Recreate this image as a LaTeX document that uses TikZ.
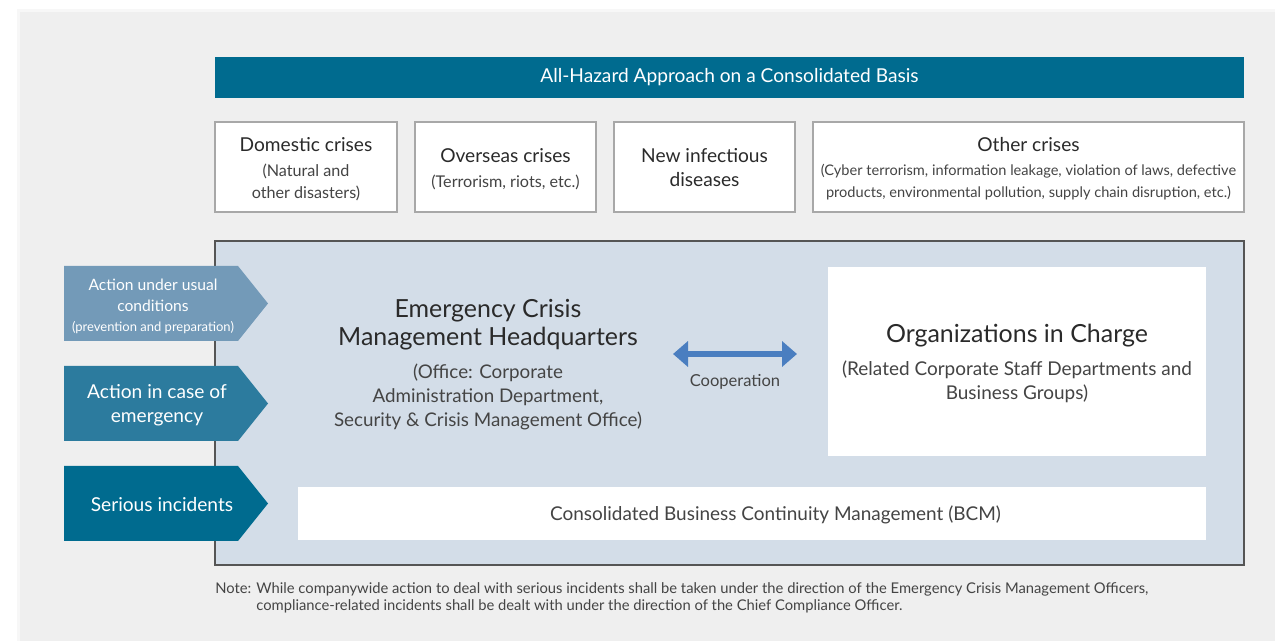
\documentclass[tikz,border=0pt]{standalone}
\usepackage{fontspec}
\setmainfont{Lato}
\usetikzlibrary{arrows.meta}
\newdimen\px \px=0.02cm
\definecolor{panelgray}{HTML}{EFEFEF}
\definecolor{hazardblue}{HTML}{006B8F}
\definecolor{boxgray}{HTML}{A8A8A8}
\definecolor{mainfill}{HTML}{D3DDE8}
\definecolor{mainline}{HTML}{555555}
\definecolor{tagone}{HTML}{739AB8}
\definecolor{tagtwo}{HTML}{2C7B9E}
\definecolor{tagthree}{HTML}{006B8F}
\definecolor{coopblue}{HTML}{4A7EC0}
\definecolor{textdark}{HTML}{2A2A2A}
\definecolor{textsoft}{HTML}{444444}
\newcommand{\headfont}{\fontsize{10.9}{13.6}\selectfont}
\newcommand{\subfont}{\fontsize{9.2}{12.5}\selectfont}
\tikzset{
  frame/.style={inner sep=0pt, outer sep=0pt},
  crisis/.style={frame, draw=boxgray, line width=2\px, fill=white},
  head/.style={inner sep=0pt, align=center, text=textdark, font=\headfont},
  sub/.style={inner sep=0pt, align=center, text=textsoft, font=\subfont},
  tagtext/.style={inner sep=0pt, align=center, text=white},
  coop/.style={coopblue, line width=0.12cm,
    {Triangle[length=0.3cm, width=0.5cm]}-{Triangle[length=0.3cm, width=0.5cm]}}
}
\begin{document}
\begin{tikzpicture}[x=0.02cm, y=-0.02cm]
  \useasboundingbox (0,0) rectangle (1275,641);
  \fill[white] (0,0) rectangle (1275,641);
  % panel with a soft edge
  \fill[black!3] (17,9) rectangle (1275,641);
  \fill[panelgray] (20,12) rectangle (1275,641);

  % title bar
  \node[frame, fill=hazardblue, text=white, font=\headfont,
    minimum width=1029\px, minimum height=41\px] (hazard) at (729.5,77.5)
    {All-Hazard Approach on a Consolidated Basis};

  % kinds of crises
  \node[crisis, minimum width=182\px, minimum height=90\px] (domestic) at (306,167) {};
  \node[crisis, minimum width=181\px, minimum height=90\px] (overseas) at (505.5,167) {};
  \node[crisis, minimum width=181\px, minimum height=90\px] (infect) at (704.5,167) {};
  \node[crisis, minimum width=431\px, minimum height=90\px] (other) at (1028.5,167) {};
  \node[head] (domestic-head) at (306,145) {Domestic crises};
  \node[sub] (domestic-sub) at (306,182) {(Natural and\\other disasters)};
  \node[head] (overseas-head) at (505.5,156) {Overseas crises};
  \node[sub] (overseas-sub) at (505.5,182) {(Terrorism, riots, etc.)};
  \node[head] (infect-head) at (704.5,168) {New infectious\\diseases};
  \node[head] (other-head) at (1028.5,145) {Other crises};
  \node[sub, font=\fontsize{8.3}{12.5}\selectfont] (other-sub) at (1028.5,182) {(Cyber terrorism, information leakage, violation of laws, defective\\products, environmental pollution, supply chain disruption, etc.)};

  % main frame
  \node[frame, draw=mainline, fill=mainfill, line width=1.5\px,
    minimum width=1029\px, minimum height=324\px] (main) at (729.5,403) {};
  \node[frame, fill=white, minimum width=378\px, minimum height=189\px] (org) at (1017,361.5) {};
  \node[frame, fill=white, minimum width=908\px, minimum height=53\px] (bcm) at (752,513.5) {};

  % tags on the left
  \foreach \y/\col in {266/tagone, 366/tagtwo, 466/tagthree}
    \fill[\col] (64,\y) -- (238,\y) -- (268,\y+37.5) -- (238,\y+75) -- (64,\y+75) -- cycle;
  \node[tagtext, font=\fontsize{8.9}{12}\selectfont] (usual) at (153,295) {Action under usual\\conditions};
  \node[tagtext, font=\fontsize{7.4}{9}\selectfont] (usual-sub) at (153,328) {(prevention and preparation)};
  \node[tagtext, font=\fontsize{10.9}{13.6}\selectfont] (emergency) at (157,405) {Action in case of\\emergency};
  \node[tagtext, font=\fontsize{10.9}{13.6}\selectfont] (serious) at (162,505) {Serious incidents};

  % headquarters and organizations
  \node[head, font=\fontsize{14.2}{15.9}\selectfont] (hq-head) at (488,325) {Emergency Crisis\\Management Headquarters};
  \node[sub, font=\fontsize{10.7}{13.6}\selectfont] (hq-sub) at (488,397) {(Office: Corporate\\Administration Department,\\Security \& Crisis Management Office)};
  \node[head, font=\fontsize{14.2}{15}\selectfont] (org-head) at (1017,336) {Organizations in Charge};
  \node[sub, font=\fontsize{10.8}{13.6}\selectfont] (org-sub) at (1017,382) {(Related Corporate Staff Departments and\\Business Groups)};
  \node[sub, font=\fontsize{10.8}{12}\selectfont] (bcm-text) at ([xshift=23.5\px, yshift=-1\px]bcm.center) {Consolidated Business Continuity Management (BCM)};

  % cooperation
  \coordinate (coop-l) at (673,354);
  \coordinate (coop-r) at (797,354);
  \draw[coop] (coop-l) -- (coop-r);
  \node[sub, font=\fontsize{9.4}{11}\selectfont] (coop-text) at (735,382) {Cooperation};

  % note
  \node[anchor=north west, inner sep=0pt, text=textsoft, font=\fontsize{8.4}{9.6}\selectfont] (note) at (215,581)
    {\begin{tabular}{@{}l@{ }l@{}}Note: & While companywide action to deal with serious incidents shall be taken under the direction of the Emergency Crisis Management Officers,\\
     & compliance-related incidents shall be dealt with under the direction of the Chief Compliance Officer.\end{tabular}};
\end{tikzpicture}
\end{document}
